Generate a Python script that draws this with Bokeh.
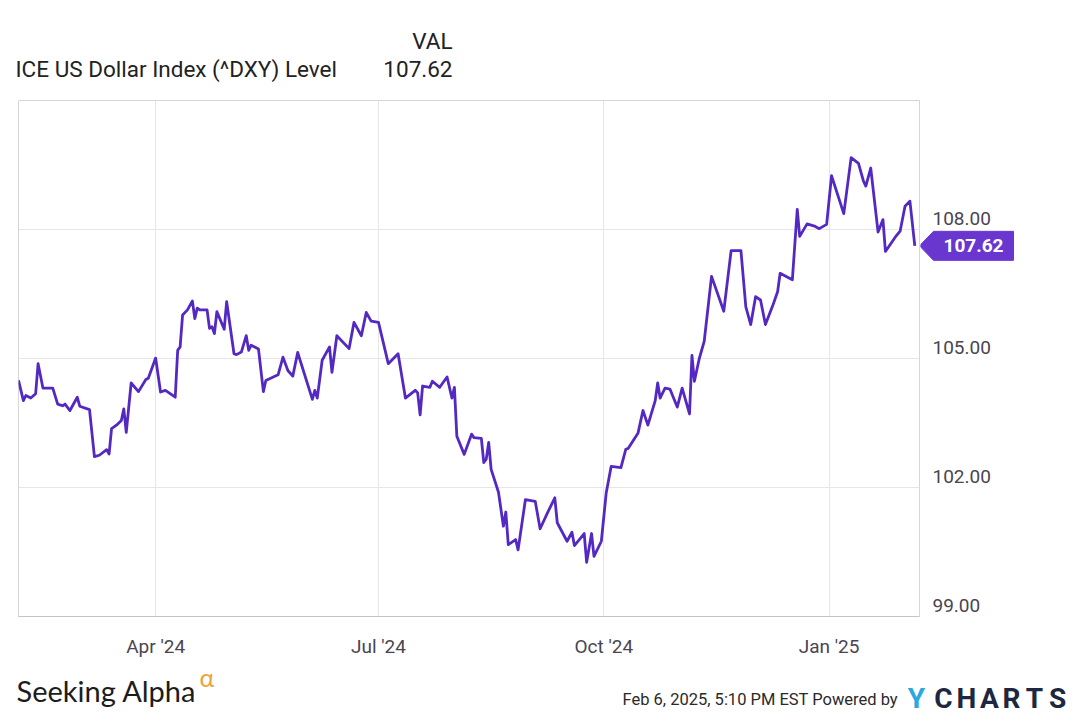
from datetime import datetime
import pandas as pd
from bokeh.plotting import figure
from bokeh.layouts import column, row
from bokeh.models import (ColumnDataSource, FixedTicker, Range1d, DatetimeTickFormatter)
from bokeh.core.properties import value
from bokeh.embed import file_html
from bokeh.resources import INLINE

# ---------------- data ----------------
dates = [
    "2024-02-05", "2024-02-07", "2024-02-08", "2024-02-10", "2024-02-12", "2024-02-13", "2024-02-15",
    "2024-02-19", "2024-02-21", "2024-02-23", "2024-02-24", "2024-02-26", "2024-02-29", "2024-03-01",
    "2024-03-05", "2024-03-07", "2024-03-09", "2024-03-12", "2024-03-13", "2024-03-14", "2024-03-16",
    "2024-03-18", "2024-03-19", "2024-03-20", "2024-03-22", "2024-03-25", "2024-03-28", "2024-03-29",
    "2024-04-01", "2024-04-03", "2024-04-05", "2024-04-09", "2024-04-10", "2024-04-11", "2024-04-12",
    "2024-04-14", "2024-04-16", "2024-04-17", "2024-04-18", "2024-04-19", "2024-04-22", "2024-04-23",
    "2024-04-24", "2024-04-25", "2024-04-26", "2024-04-29", "2024-04-30", "2024-05-03", "2024-05-04",
    "2024-05-06", "2024-05-08", "2024-05-09", "2024-05-10", "2024-05-13", "2024-05-15", "2024-05-16",
    "2024-05-21", "2024-05-23", "2024-05-25", "2024-05-27", "2024-05-29", "2024-06-04", "2024-06-05",
    "2024-06-06", "2024-06-08", "2024-06-11", "2024-06-12", "2024-06-14", "2024-06-19", "2024-06-21",
    "2024-06-24", "2024-06-26", "2024-06-28", "2024-07-01", "2024-07-05", "2024-07-09", "2024-07-12",
    "2024-07-16", "2024-07-17", "2024-07-18", "2024-07-19", "2024-07-22", "2024-07-23", "2024-07-26",
    "2024-07-29", "2024-07-31", "2024-08-01", "2024-08-02", "2024-08-05", "2024-08-08", "2024-08-09",
    "2024-08-12", "2024-08-13", "2024-08-14", "2024-08-15", "2024-08-16", "2024-08-19", "2024-08-21",
    "2024-08-22", "2024-08-23", "2024-08-26", "2024-08-27", "2024-08-30", "2024-09-03", "2024-09-05",
    "2024-09-08", "2024-09-11", "2024-09-12", "2024-09-16", "2024-09-18", "2024-09-19", "2024-09-23",
    "2024-09-24", "2024-09-26", "2024-09-27", "2024-09-30", "2024-10-02", "2024-10-04", "2024-10-08",
    "2024-10-10", "2024-10-11", "2024-10-15", "2024-10-17", "2024-10-19", "2024-10-22", "2024-10-23",
    "2024-10-24", "2024-10-26", "2024-10-28", "2024-10-31", "2024-11-02", "2024-11-05", "2024-11-06",
    "2024-11-07", "2024-11-09", "2024-11-11", "2024-11-14", "2024-11-19", "2024-11-22", "2024-11-26",
    "2024-11-28", "2024-11-30", "2024-12-02", "2024-12-04", "2024-12-06", "2024-12-09", "2024-12-11",
    "2024-12-12", "2024-12-17", "2024-12-19", "2024-12-20", "2024-12-23", "2024-12-26", "2024-12-28",
    "2024-12-31", "2025-01-02", "2025-01-07", "2025-01-10", "2025-01-13", "2025-01-15", "2025-01-16",
    "2025-01-18", "2025-01-21", "2025-01-23", "2025-01-24", "2025-01-28", "2025-01-30", "2025-02-01",
    "2025-02-03", "2025-02-05",
]
values = [
    104.49, 104.02, 104.14, 104.08, 104.18, 104.88, 104.31,
    104.31, 103.94, 103.90, 103.94, 103.79, 104.10, 103.89,
    103.81, 102.72, 102.75, 102.88, 102.78, 103.37, 103.45,
    103.56, 103.83, 103.28, 104.43, 104.23, 104.51, 104.54,
    105.01, 104.22, 104.26, 104.10, 105.19, 105.27, 106.01,
    106.13, 106.34, 105.93, 106.17, 106.13, 106.13, 105.70,
    105.74, 105.58, 106.09, 105.68, 106.32, 105.11, 105.09,
    105.15, 105.53, 105.19, 105.31, 105.22, 104.23, 104.49,
    104.62, 105.03, 104.72, 104.59, 105.14, 104.05, 104.26,
    104.08, 104.96, 105.27, 104.68, 105.53, 105.23, 105.84,
    105.53, 106.07, 105.87, 105.84, 104.88, 105.11, 104.08,
    104.26, 104.20, 103.69, 104.36, 104.33, 104.47, 104.33,
    104.57, 104.08, 104.33, 103.19, 102.77, 103.24, 103.16,
    103.14, 102.58, 102.66, 103.05, 102.42, 101.89, 101.10,
    101.43, 100.67, 100.79, 100.55, 101.72, 101.68, 101.04,
    101.41, 101.76, 101.18, 100.75, 100.96, 100.65, 100.93,
    100.26, 100.93, 100.40, 100.75, 101.88, 102.49, 102.46,
    102.89, 102.91, 103.27, 103.79, 103.45, 104.02, 104.43,
    104.08, 104.31, 104.29, 103.87, 104.31, 103.71, 105.07,
    104.47, 105.00, 105.40, 106.91, 106.10, 107.51, 107.51,
    106.20, 105.79, 106.44, 106.36, 105.79, 106.23, 106.56,
    106.98, 106.83, 108.47, 107.84, 108.13, 108.08, 108.02,
    108.12, 109.25, 108.37, 109.67, 109.54, 109.13, 109.01,
    109.43, 107.94, 108.23, 107.49, 107.82, 107.96, 108.54,
    108.66, 107.62,
]
y_ticks = [99, 102, 105, 108]
x_tick_dates = ["2024-04-01", "2024-07-01", "2024-10-01", "2025-01-01"]
series_name = "ICE US Dollar Index (^DXY) Level"
value_header = "VAL"
source_name = "Seeking Alpha"
stamp_text = "Feb 6, 2025, 5:10 PM EST Powered by"
logo_letters = ["Y", "C", "H", "A", "R", "T", "S"]

# ---------------- layout constants ----------------
X0 = datetime(2024, 2, 5)
X1 = datetime(2025, 2, 6, 22)
Y0, Y1 = 99, 111
FONT = value("Roboto")
LINE_COLOR = "#5429c2"
BADGE_COLOR = "#6937d0"
TEXT_COLOR = "#222222"
TICK_COLOR = "#4a4550"
GRID_COLOR = "#e6e6e8"

HEAD_H, MAIN_H, FOOT_H = 99, 561, 61
MAIN_W, SIDE_W = 920, 160


def blank(width, height, xr, yr):
    f = figure(width=width, height=height, x_range=xr, y_range=yr,
               x_axis_location=None, y_axis_location=None,
               output_backend="svg", toolbar_location=None,
               min_border=0, min_border_left=0, min_border_right=0,
               min_border_top=0, min_border_bottom=0)
    f.grid.visible = False
    f.outline_line_color = None
    f.background_fill_color = "white"
    f.border_fill_color = "white"
    return f


last = values[-1]

# ---------------- header ----------------
head = blank(1080, HEAD_H, Range1d(0, 1080), Range1d(HEAD_H, 0))
head.text(x=[15], y=[68], text=[series_name], text_font=FONT, text_font_size="22.5px",
          text_color=TEXT_COLOR, text_align="left", text_baseline="middle")
head.text(x=[452, 452], y=[40, 68], text=[value_header, f"{last:.2f}"], text_font=FONT,
          text_font_size="22.5px", text_color=TEXT_COLOR, text_align="right", text_baseline="middle")

# ---------------- main chart ----------------
yr = Range1d(Y0, Y1)
src = ColumnDataSource(dict(date=pd.to_datetime(dates), value=values))
p = figure(width=MAIN_W, height=MAIN_H, x_axis_type="datetime", y_axis_location=None,
           x_range=Range1d(X0, X1), y_range=yr,
           output_backend="svg", toolbar_location=None,
           min_border_left=18, min_border_right=1, min_border_top=1, min_border_bottom=44)
p.background_fill_color = "white"
p.border_fill_color = "white"
p.outline_line_color = "#d6d6d6"

p.line("date", "value", source=src, line_color=LINE_COLOR, line_width=2.8, line_join="round")

x_ticks_ms = [pd.Timestamp(d).value / 1e6 for d in x_tick_dates]
p.xaxis.ticker = FixedTicker(ticks=x_ticks_ms)
fmt = "%b '%y"
p.xaxis.formatter = DatetimeTickFormatter(days=fmt, months=fmt, years=fmt, hours=fmt,
                                          minutes=fmt, seconds=fmt, milliseconds=fmt,
                                          microseconds=fmt, hourmin=fmt, minsec=fmt)
p.xaxis.major_tick_line_color = None
p.xaxis.minor_tick_line_color = None
p.xaxis.major_label_text_font = "Roboto"
p.xaxis.major_label_text_font_size = "19px"
p.xaxis.major_label_text_color = TICK_COLOR
p.xaxis.axis_line_color = "#c4c4c4"
p.xaxis.major_label_standoff = 12

p.xgrid.ticker = FixedTicker(ticks=x_ticks_ms)
p.ygrid.ticker = FixedTicker(ticks=y_ticks)
p.xgrid.grid_line_color = GRID_COLOR
p.ygrid.grid_line_color = GRID_COLOR

# ---------------- right side: value labels + last-price badge ----------------
side = blank(SIDE_W, MAIN_H, Range1d(0, SIDE_W), yr)
side.min_border_top = 1
side.min_border_bottom = 44
side.text(x=[12] * len(y_ticks), y=y_ticks, text=[f"{t:.2f}" for t in y_ticks],
          text_font=FONT, text_font_size="19px", text_color=TICK_COLOR,
          text_align="left", text_baseline="middle", y_offset=-11)
hh = 14.5 * (Y1 - Y0) / 516
side.patch(x=[-1, 13, 93, 93, 13], y=[last, last + hh, last + hh, last - hh, last - hh],
           fill_color=BADGE_COLOR, line_color=BADGE_COLOR)
side.text(x=[53], y=[last], text=[f"{last:.2f}"], text_font=FONT, text_font_size="19px",
          text_font_style="bold", text_color="white", text_align="center", text_baseline="middle")

# ---------------- footer ----------------
foot = blank(1080, FOOT_H, Range1d(0, 1080), Range1d(721, 660))
foot.text(x=[16], y=[690], text=[source_name], text_font=value("Lato"), text_font_size="29px",
          text_color="#1c1c1c", text_align="left", text_baseline="middle")
foot.text(x=[199], y=[676], text=["\u03b1"], text_font=value("Lato"), text_font_size="25px",
          text_color="#f0a23a", text_align="left", text_baseline="middle")
foot.text(x=[622], y=[699], text=[stamp_text], text_font=FONT, text_font_size="16.5px",
          text_color="#2a2a2a", text_align="left", text_baseline="middle")
logo_src = ColumnDataSource(dict(
    x=[916, 943, 966, 989, 1011, 1034, 1057], y=[698] * 7, t=logo_letters,
    c=["#2aa8df"] + ["#1d2740"] * 6))
foot.text(x="x", y="y", text="t", text_color="c", source=logo_src, text_font=FONT,
          text_font_size="28px", text_font_style="bold", text_align="center", text_baseline="middle")

layout = column(head, row(p, side), foot)
open("out.html", "w").write(file_html(layout, INLINE))
